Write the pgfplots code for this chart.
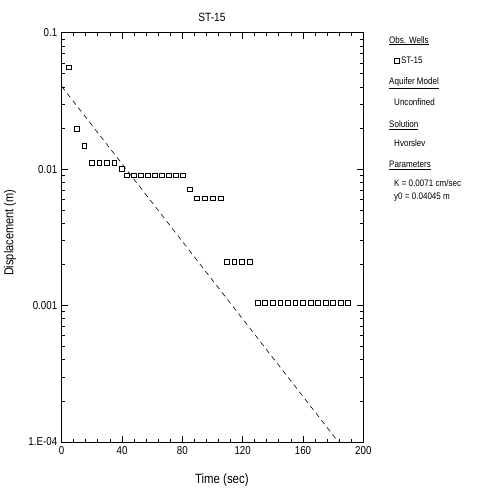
\documentclass[border=0pt]{standalone}
\usepackage{pgfplots}
\pgfplotsset{compat=1.18}
\usepackage{fontspec}
\setmainfont{Liberation Sans}[FakeStretch=0.85]
\begin{document}
\begin{tikzpicture}
\path[use as bounding box] (0,0) rectangle (484bp,490bp);
\begin{axis}[
  at={(61.7bp,48bp)}, anchor=south west,
  scale only axis, width=301.6bp, height=409.3bp,
  xmin=0, xmax=200, ymin=1e-4, ymax=0.1,
  ymode=log,
  axis line style={line width=1pt},
  xtick={0,40,80,120,160,200},
  xticklabels={0,40,80,120,160,200},
  minor x tick num=4,
  ytick={1e-4,1e-3,1e-2,1e-1},
  yticklabels={1.E-04,0.001,0.01,0.1},
  tick align=inside,
  major tick length=6bp, minor tick length=3.5bp,
  tick style={line width=0.8pt, black},
  tick label style={font=\fontsize{11.5}{13}\selectfont},
  xticklabel style={yshift=-1bp},
  yticklabel style={xshift=-1bp},
  title={ST-15},
  title style={at={(axis description cs:0.498,1.022)}, anchor=center, yshift=0pt, font=\fontsize{12}{14}\selectfont},
  xlabel={Time (sec)},
  xlabel style={at={(axis description cs:0.531,-0.093)}, anchor=center, font=\fontsize{13.5}{15}\selectfont},
  ylabel={Displacement (m)},
  ylabel style={at={(axis description cs:-0.171,0.511)}, anchor=center, font=\fontsize{13}{15}\selectfont},
  legend style={at={(axis description cs:1.102,0.9316)}, anchor=west, draw=none, fill=none,
    inner sep=0pt, font=\fontsize{9.5}{11}\selectfont,
    /tikz/every even column/.append style={column sep=2bp}},
  legend image code/.code={\draw[#1] plot coordinates {(0bp,0bp)};},
  clip=false,
]
\addplot[only marks, mark=square, mark size=2.4bp, mark options={line width=0.8pt, black}] coordinates {
(5,0.0557) (10,0.0196) (15,0.0148)
(20,0.0111) (25,0.0111) (30,0.0111) (35,0.0111)
(40,0.0101)
(43.5,0.009) (47.9,0.009) (52.6,0.009) (57.2,0.009) (61.9,0.009) (66.3,0.009) (70.9,0.009) (75.6,0.009) (80.2,0.009)
(85.1,0.0071)
(89.9,0.0061) (95.2,0.0061) (100.5,0.0061) (105.6,0.0061)
(109.4,0.0021) (114.5,0.0021) (119.6,0.0021) (124.7,0.0021)
(130,0.00104) (135,0.00104) (140,0.00104) (145,0.00104) (150,0.00104) (155,0.00104) (160,0.00104)
(165,0.00104) (170,0.00104) (175,0.00104) (180,0.00104) (185,0.00104) (190,0.00104)
};
\addlegendentry{ST-15}
\addplot[black, line width=0.6pt, dash pattern=on 5bp off 4bp] coordinates {(0,0.04045) (183.5,1e-4)};
\end{axis}
\begin{scope}[every node/.style={anchor=west, inner sep=0pt, font=\fontsize{9.5}{11}\selectfont}]
\node at (389bp,{490bp-40.7bp}) {\underline{Obs. Wells}};
\node at (389bp,{490bp-83bp}) {\underline{Aquifer Model}};
\node at (394bp,{490bp-101.7bp}) {Unconfined};
\node at (389bp,{490bp-125bp}) {\underline{Solution}};
\node at (394bp,{490bp-143bp}) {Hvorslev};
\node at (389bp,{490bp-165.7bp}) {\underline{Parameters}};
\node at (394bp,{490bp-183bp}) {K = 0.0071 cm/sec};
\node at (394bp,{490bp-197bp}) {y0 = 0.04045 m};
\end{scope}
\end{tikzpicture}
\end{document}
